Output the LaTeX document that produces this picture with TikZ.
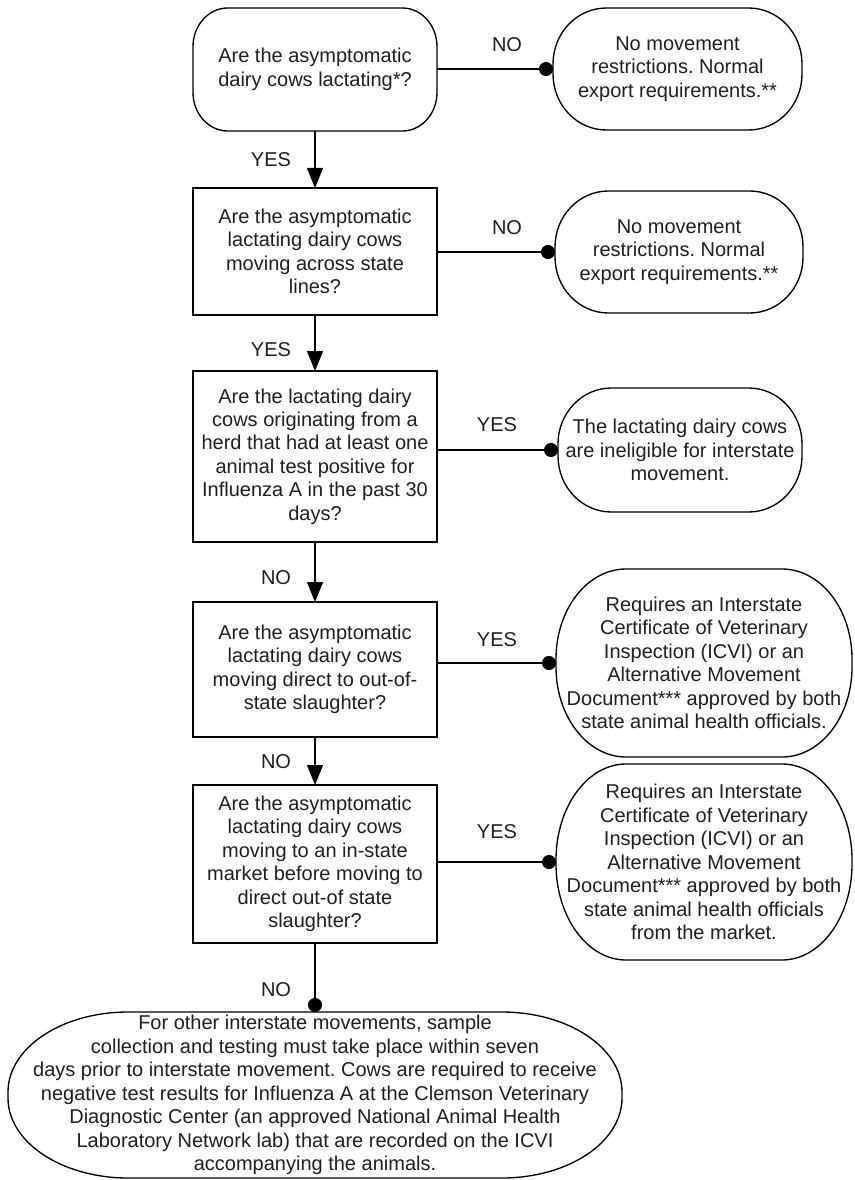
\documentclass[tikz,border=0pt]{standalone}
\usepackage{fontspec}
\setmainfont{Liberation Sans}
\usetikzlibrary{arrows.meta,calc}
\frenchspacing
\newcommand{\roundborder}[3]{%
  \draw[shapeline] ([xshift=#2]#1.north west) -- ([xshift=-#2]#1.north east)
    arc[start angle=90,end angle=0,x radius=#2,y radius=#3]
    -- ([yshift=#3]#1.south east)
    arc[start angle=0,end angle=-90,x radius=#2,y radius=#3]
    -- ([xshift=#2]#1.south west)
    arc[start angle=270,end angle=180,x radius=#2,y radius=#3]
    -- ([yshift=-#3]#1.north west)
    arc[start angle=180,end angle=90,x radius=#2,y radius=#3] -- cycle;}
\tikzset{
  every node/.style={font=\fontsize{15pt}{17.6pt}\selectfont\frenchspacing, align=center,
    inner sep=0pt, outer sep=0pt, text=black!88},
  qbox/.style={draw, line width=1pt, minimum width=183pt},
  term/.style={draw=none},
  shapeline/.style={line width=1pt},
  arr/.style={line width=1pt, -{Triangle[width=12pt,length=15pt]}},
  dotarr/.style={line width=1pt, -{Circle[length=10.5pt]}},
}
\begin{document}
\begin{tikzpicture}[x=0.75pt,y=-0.75pt]
\useasboundingbox (0,0) rectangle (854,1180);
% question boxes
\node[term, minimum width=183pt, minimum height=92.25pt] (b1) at (315,69.5)
  {Are the asymptomatic\\dairy cows lactating*?};
\roundborder{b1}{26pt}{29pt}
\node[qbox, minimum height=95.25pt] (b2) at (315,251.5)
  {Are the asymptomatic\\lactating dairy cows\\moving across state\\lines?};
\node[qbox, minimum height=128.25pt] (b3) at (315,456.5)
  {Are the lactating dairy\\cows originating from a\\herd that had at least one\\animal test positive for\\Influenza A in the past 30\\days?};
\node[qbox, minimum height=101.25pt] (b4) at (315,669.5)
  {Are the asymptomatic\\lactating dairy cows\\moving direct to out-of-\\state slaughter?};
\node[qbox, minimum height=118.5pt] (b5) at (315,864)
  {Are the asymptomatic\\lactating dairy cows\\moving to an in-state\\market before moving to\\direct out-of state\\slaughter?};
% terminal shapes
\node[term, minimum width=186.75pt, minimum height=91.5pt] (t1) at (677.5,69)
  {No movement\\restrictions. Normal\\export requirements.**};
\roundborder{t1}{40pt}{42pt}
\node[term, minimum width=186pt, minimum height=91.5pt] (t2) at (679,252)
  {No movement\\restrictions. Normal\\export requirements.**};
\roundborder{t2}{40pt}{42pt}
\node[term, minimum width=183pt, minimum height=93pt] (t3) at (680,450)
  {The lactating dairy cows\\are ineligible for interstate\\movement.};
\roundborder{t3}{40pt}{42pt}
\node[term, minimum width=222pt, minimum height=141pt] (t4) at (704,663)
  {Requires an Interstate\\Certificate of Veterinary\\Inspection (ICVI) or an\\Alternative Movement\\Document*** approved by both\\state animal health officials.};
\roundborder{t4}{52.5pt}{67.5pt}
\node[term, minimum width=222pt, minimum height=147pt] (t5) at (704,862)
  {Requires an Interstate\\Certificate of Veterinary\\Inspection (ICVI) or an\\Alternative Movement\\Document*** approved by both\\state animal health officials\\from the market.};
\roundborder{t5}{52.5pt}{72pt}
\node[term, minimum width=460.5pt, minimum height=124.5pt] (bot) at (315,1095)
  {For other interstate movements, sample\\collection and testing must take place within seven\\days prior to interstate movement. Cows are required to receive\\negative test results for Influenza A at the Clemson Veterinary\\Diagnostic Center (an approved National Animal Health\\Laboratory Network lab) that are recorded on the ICVI\\accompanying the animals.};
\roundborder{bot}{90pt}{60pt}
% connectors
\draw[arr] (b1.south) -- (b2.north);
\draw[arr] (b2.south) -- (b3.north);
\draw[arr] (b3.south) -- (b4.north);
\draw[arr] (b4.south) -- (b5.north);
\draw[dotarr] (b5.south) -- (bot.north);
\draw[dotarr] (t1.west -| b1.east) -- (t1.west);
\draw[dotarr] (t2.west -| b2.east) -- (t2.west);
\draw[dotarr] (t3.west -| b3.east) -- (t3.west);
\draw[dotarr] (t4.west -| b4.east) -- (t4.west);
\draw[dotarr] (t5.west -| b5.east) -- (t5.west);
% labels
\node (n1) at (507,45) {NO};
\node (n2) at (507,228) {NO};
\node (y3) at (497,425) {YES};
\node (y4) at (497,640) {YES};
\node (y5) at (497,832) {YES};
\node[anchor=east] (v1) at (291,160) {YES};
\node[anchor=east] (v2) at (291,350) {YES};
\node[anchor=east] (v3) at (291,578) {NO};
\node[anchor=east] (v4) at (291,762) {NO};
\node[anchor=east] (v5) at (291,990) {NO};
\end{tikzpicture}
\end{document}
